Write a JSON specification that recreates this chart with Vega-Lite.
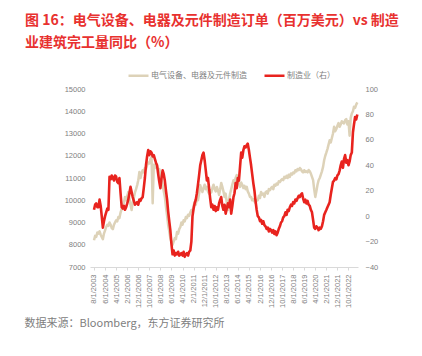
{
  "$schema": "https://vega.github.io/schema/vega-lite/v6.json",
  "width": 268,
  "height": 178,
  "autosize": {"type": "none"},
  "padding": {"left": 90, "top": 89, "right": 64, "bottom": 89},
  "background": "white",
  "title": {
    "text": ["图 16：电气设备、电器及元件制造订单（百万美元）vs 制造", "业建筑完工量同比（%）"],
    "anchor": "start",
    "frame": "group",
    "orient": "top",
    "offset": 14,
    "dx": -65,
    "fontSize": 14,
    "lineHeight": 22,
    "color": "#E8312F",
    "font": "Noto Sans CJK SC",
    "fontWeight": "bold"
  },
  "data": {"values": [
{"d":"2003-08-01","o":8200,"m":5},{"d":"2003-09-01","o":8400,"m":9},{"d":"2003-10-01","o":8350,"m":10},{"d":"2003-11-01","o":8550,"m":7},{"d":"2003-12-01","o":8500,"m":7},
{"d":"2004-01-01","o":8600,"m":13},{"d":"2004-02-01","o":8450,"m":8},{"d":"2004-03-01","o":8350,"m":0},{"d":"2004-04-01","o":8250,"m":-9},{"d":"2004-05-01","o":8500,"m":-4},{"d":"2004-06-01","o":8650,"m":0},{"d":"2004-07-01","o":8800,"m":3},{"d":"2004-08-01","o":8900,"m":6},{"d":"2004-09-01","o":8850,"m":5},{"d":"2004-10-01","o":9000,"m":31},{"d":"2004-11-01","o":8900,"m":29},{"d":"2004-12-01","o":8750,"m":32},
{"d":"2005-01-01","o":8700,"m":30},{"d":"2005-02-01","o":8900,"m":28},{"d":"2005-03-01","o":9000,"m":32},{"d":"2005-04-01","o":9100,"m":31},{"d":"2005-05-01","o":9050,"m":27},{"d":"2005-06-01","o":9250,"m":26},{"d":"2005-07-01","o":9200,"m":30},{"d":"2005-08-01","o":9450,"m":18},{"d":"2005-09-01","o":9600,"m":7},{"d":"2005-10-01","o":9700,"m":6},{"d":"2005-11-01","o":9900,"m":8},{"d":"2005-12-01","o":10150,"m":5},
{"d":"2006-01-01","o":10000,"m":7},{"d":"2006-02-01","o":10200,"m":10},{"d":"2006-03-01","o":10370,"m":13},{"d":"2006-04-01","o":10100,"m":18},{"d":"2006-05-01","o":9800,"m":23},{"d":"2006-06-01","o":9560,"m":19},{"d":"2006-07-01","o":9900,"m":15},{"d":"2006-08-01","o":10100,"m":12},{"d":"2006-09-01","o":10350,"m":9},{"d":"2006-10-01","o":10500,"m":10},{"d":"2006-11-01","o":10680,"m":11},{"d":"2006-12-01","o":10900,"m":9},
{"d":"2007-01-01","o":11270,"m":13},{"d":"2007-02-01","o":11000,"m":12},{"d":"2007-03-01","o":11200,"m":14},{"d":"2007-04-01","o":11350,"m":15},{"d":"2007-05-01","o":11250,"m":22},{"d":"2007-06-01","o":11450,"m":30},{"d":"2007-07-01","o":11400,"m":40},{"d":"2007-08-01","o":11580,"m":47},{"d":"2007-09-01","o":11700,"m":52},{"d":"2007-10-01","o":11650,"m":48},{"d":"2007-11-01","o":11850,"m":51},{"d":"2007-12-01","o":11950,"m":50},
{"d":"2008-01-01","o":9870,"m":47},{"d":"2008-02-01","o":11600,"m":48},{"d":"2008-03-01","o":11450,"m":45},{"d":"2008-04-01","o":11650,"m":42},{"d":"2008-05-01","o":11500,"m":40},{"d":"2008-06-01","o":11350,"m":33},{"d":"2008-07-01","o":11400,"m":27},{"d":"2008-08-01","o":11220,"m":22},{"d":"2008-09-01","o":10900,"m":30},{"d":"2008-10-01","o":10700,"m":36},{"d":"2008-11-01","o":10400,"m":33},{"d":"2008-12-01","o":10150,"m":28},
{"d":"2009-01-01","o":9700,"m":20},{"d":"2009-02-01","o":9300,"m":13},{"d":"2009-03-01","o":8900,"m":4},{"d":"2009-04-01","o":8600,"m":-4},{"d":"2009-05-01","o":8300,"m":-11},{"d":"2009-06-01","o":8100,"m":-22},{"d":"2009-07-01","o":8000,"m":-30},{"d":"2009-08-01","o":8150,"m":-27},{"d":"2009-09-01","o":8300,"m":-31},{"d":"2009-10-01","o":8250,"m":-29},{"d":"2009-11-01","o":8570,"m":-30},{"d":"2009-12-01","o":8500,"m":-28},
{"d":"2010-01-01","o":8700,"m":-31},{"d":"2010-02-01","o":8800,"m":-30},{"d":"2010-03-01","o":9000,"m":-29},{"d":"2010-04-01","o":8900,"m":-31},{"d":"2010-05-01","o":9100,"m":-28},{"d":"2010-06-01","o":9050,"m":-32},{"d":"2010-07-01","o":9250,"m":-30},{"d":"2010-08-01","o":9200,"m":-29},{"d":"2010-09-01","o":9350,"m":-31},{"d":"2010-10-01","o":9300,"m":-28},{"d":"2010-11-01","o":9450,"m":-27},{"d":"2010-12-01","o":9560,"m":-20},
{"d":"2011-01-01","o":9500,"m":0},{"d":"2011-02-01","o":9750,"m":6},{"d":"2011-03-01","o":9920,"m":10},{"d":"2011-04-01","o":9800,"m":13},{"d":"2011-05-01","o":10100,"m":18},{"d":"2011-06-01","o":10000,"m":25},{"d":"2011-07-01","o":10300,"m":32},{"d":"2011-08-01","o":10680,"m":40},{"d":"2011-09-01","o":10500,"m":44},{"d":"2011-10-01","o":10370,"m":48},{"d":"2011-11-01","o":10550,"m":50},{"d":"2011-12-01","o":10700,"m":44},
{"d":"2012-01-01","o":10500,"m":36},{"d":"2012-02-01","o":10600,"m":28},{"d":"2012-03-01","o":10400,"m":30},{"d":"2012-04-01","o":10300,"m":22},{"d":"2012-05-01","o":10450,"m":14},{"d":"2012-06-01","o":10350,"m":7},{"d":"2012-07-01","o":10550,"m":9},{"d":"2012-08-01","o":10700,"m":5},{"d":"2012-09-01","o":10500,"m":8},{"d":"2012-10-01","o":10400,"m":4},{"d":"2012-11-01","o":10600,"m":7},{"d":"2012-12-01","o":10450,"m":5},
{"d":"2013-01-01","o":10240,"m":10},{"d":"2013-02-01","o":10500,"m":13},{"d":"2013-03-01","o":10780,"m":15},{"d":"2013-04-01","o":10600,"m":8},{"d":"2013-05-01","o":10400,"m":5},{"d":"2013-06-01","o":10150,"m":9},{"d":"2013-07-01","o":10300,"m":2},{"d":"2013-08-01","o":9900,"m":6},{"d":"2013-09-01","o":9560,"m":10},{"d":"2013-10-01","o":10000,"m":7},{"d":"2013-11-01","o":10300,"m":13},{"d":"2013-12-01","o":10500,"m":2},
{"d":"2014-01-01","o":10700,"m":8},{"d":"2014-02-01","o":10900,"m":15},{"d":"2014-03-01","o":10800,"m":18},{"d":"2014-04-01","o":11000,"m":26},{"d":"2014-05-01","o":11130,"m":22},{"d":"2014-06-01","o":10900,"m":30},{"d":"2014-07-01","o":10750,"m":28},{"d":"2014-08-01","o":10600,"m":39},{"d":"2014-09-01","o":10800,"m":50},{"d":"2014-10-01","o":10700,"m":46},{"d":"2014-11-01","o":10550,"m":52},{"d":"2014-12-01","o":10650,"m":55},
{"d":"2015-01-01","o":10500,"m":54},{"d":"2015-02-01","o":10600,"m":56},{"d":"2015-03-01","o":10400,"m":57},{"d":"2015-04-01","o":10300,"m":52},{"d":"2015-05-01","o":10150,"m":46},{"d":"2015-06-01","o":10150,"m":40},{"d":"2015-07-01","o":10000,"m":33},{"d":"2015-08-01","o":10050,"m":26},{"d":"2015-09-01","o":9950,"m":20},{"d":"2015-10-01","o":9870,"m":12},{"d":"2015-11-01","o":10000,"m":5},{"d":"2015-12-01","o":10000,"m":0},
{"d":"2016-01-01","o":10200,"m":-1},{"d":"2016-02-01","o":10100,"m":-4},{"d":"2016-03-01","o":10370,"m":-3},{"d":"2016-04-01","o":10250,"m":-6},{"d":"2016-05-01","o":10300,"m":-4},{"d":"2016-06-01","o":10150,"m":-7},{"d":"2016-07-01","o":10350,"m":-8},{"d":"2016-08-01","o":10400,"m":-10},{"d":"2016-09-01","o":10300,"m":-9},{"d":"2016-10-01","o":10500,"m":-12},{"d":"2016-11-01","o":10450,"m":-10},{"d":"2016-12-01","o":10550,"m":-11},
{"d":"2017-01-01","o":10600,"m":-13},{"d":"2017-02-01","o":10500,"m":-11},{"d":"2017-03-01","o":10700,"m":-14},{"d":"2017-04-01","o":10650,"m":-12},{"d":"2017-05-01","o":10750,"m":-15},{"d":"2017-06-01","o":10700,"m":-13},{"d":"2017-07-01","o":10850,"m":-10},{"d":"2017-08-01","o":10820,"m":-8},{"d":"2017-09-01","o":10900,"m":-5},{"d":"2017-10-01","o":10950,"m":-4},{"d":"2017-11-01","o":10900,"m":-1},{"d":"2017-12-01","o":11050,"m":0},
{"d":"2018-01-01","o":11000,"m":3},{"d":"2018-02-01","o":11100,"m":1},{"d":"2018-03-01","o":11000,"m":5},{"d":"2018-04-01","o":11150,"m":4},{"d":"2018-05-01","o":11050,"m":7},{"d":"2018-06-01","o":11200,"m":9},{"d":"2018-07-01","o":11150,"m":8},{"d":"2018-08-01","o":11250,"m":11},{"d":"2018-09-01","o":11220,"m":10},{"d":"2018-10-01","o":11350,"m":13},{"d":"2018-11-01","o":11300,"m":12},{"d":"2018-12-01","o":11400,"m":14},
{"d":"2019-01-01","o":11350,"m":16},{"d":"2019-02-01","o":11450,"m":15},{"d":"2019-03-01","o":11400,"m":17},{"d":"2019-04-01","o":11300,"m":18},{"d":"2019-05-01","o":11250,"m":14},{"d":"2019-06-01","o":11350,"m":11},{"d":"2019-07-01","o":11270,"m":13},{"d":"2019-08-01","o":11300,"m":10},{"d":"2019-09-01","o":11250,"m":12},{"d":"2019-10-01","o":11360,"m":9},{"d":"2019-11-01","o":11300,"m":8},{"d":"2019-12-01","o":11200,"m":5},
{"d":"2020-01-01","o":11050,"m":3},{"d":"2020-02-01","o":10900,"m":-3},{"d":"2020-03-01","o":10500,"m":-9},{"d":"2020-04-01","o":10150,"m":-10},{"d":"2020-05-01","o":10400,"m":-8},{"d":"2020-06-01","o":10700,"m":-9},{"d":"2020-07-01","o":10900,"m":-11},{"d":"2020-08-01","o":11000,"m":-9},{"d":"2020-09-01","o":11150,"m":-10},{"d":"2020-10-01","o":11300,"m":-8},{"d":"2020-11-01","o":11500,"m":-4},{"d":"2020-12-01","o":11800,"m":1},
{"d":"2021-01-01","o":12000,"m":3},{"d":"2021-02-01","o":12150,"m":5},{"d":"2021-03-01","o":12300,"m":7},{"d":"2021-04-01","o":12500,"m":9},{"d":"2021-05-01","o":12700,"m":11},{"d":"2021-06-01","o":12600,"m":17},{"d":"2021-07-01","o":12800,"m":22},{"d":"2021-08-01","o":13000,"m":27},{"d":"2021-09-01","o":13300,"m":28},{"d":"2021-10-01","o":13100,"m":30},{"d":"2021-11-01","o":13200,"m":29},{"d":"2021-12-01","o":13350,"m":32},
{"d":"2022-01-01","o":13470,"m":33},{"d":"2022-02-01","o":13300,"m":36},{"d":"2022-03-01","o":13400,"m":40},{"d":"2022-04-01","o":13550,"m":43},{"d":"2022-05-01","o":13500,"m":38},{"d":"2022-06-01","o":13450,"m":45},{"d":"2022-07-01","o":13600,"m":48},{"d":"2022-08-01","o":13650,"m":42},{"d":"2022-09-01","o":13400,"m":44},{"d":"2022-10-01","o":13550,"m":40},{"d":"2022-11-01","o":12900,"m":43},{"d":"2022-12-01","o":13700,"m":48},
{"d":"2023-01-01","o":13900,"m":50},{"d":"2023-02-01","o":14000,"m":66},{"d":"2023-03-01","o":14200,"m":72},{"d":"2023-04-01","o":14150,"m":78},{"d":"2023-05-01","o":14300,"m":76},{"d":"2023-06-01","o":14400,"m":80}
  ]},
  "encoding": {
    "x": {
      "field": "d", "type": "temporal",
      "scale": {"type": "utc", "domain": [{"year": 2003, "month": 4, "date": 13, "utc": true}, {"year": 2023, "month": 6, "date": 20, "utc": true}]},
      "axis": {
        "values": [
          {"year":2003,"month":8,"date":1,"utc":true},{"year":2004,"month":6,"date":1,"utc":true},{"year":2005,"month":4,"date":1,"utc":true},{"year":2006,"month":2,"date":1,"utc":true},
          {"year":2006,"month":12,"date":1,"utc":true},{"year":2007,"month":10,"date":1,"utc":true},{"year":2008,"month":8,"date":1,"utc":true},{"year":2009,"month":6,"date":1,"utc":true},
          {"year":2010,"month":4,"date":1,"utc":true},{"year":2011,"month":2,"date":1,"utc":true},{"year":2011,"month":12,"date":1,"utc":true},{"year":2012,"month":10,"date":1,"utc":true},
          {"year":2013,"month":8,"date":1,"utc":true},{"year":2014,"month":6,"date":1,"utc":true},{"year":2015,"month":4,"date":1,"utc":true},{"year":2016,"month":2,"date":1,"utc":true},
          {"year":2016,"month":12,"date":1,"utc":true},{"year":2017,"month":10,"date":1,"utc":true},{"year":2018,"month":8,"date":1,"utc":true},{"year":2019,"month":6,"date":1,"utc":true},
          {"year":2020,"month":4,"date":1,"utc":true},{"year":2021,"month":2,"date":1,"utc":true},{"year":2021,"month":12,"date":1,"utc":true},{"year":2022,"month":10,"date":1,"utc":true}
        ],
        "format": "%-m/%-d/%Y",
        "labelAngle": -90,
        "labelAlign": "right",
        "labelBaseline": "middle",
        "labelFontSize": 7.5,
        "labelColor": "#808080",
        "labelFont": "Liberation Sans",
        "labelPadding": 4,
        "labelOverlap": false,
        "labelSeparation": 0,
        "labelFlush": false,
        "ticks": true,
        "tickSize": 3,
        "tickColor": "#d9d9d9",
        "domainColor": "#d9d9d9",
        "grid": false,
        "title": "数据来源：Bloomberg，东方证券研究所",
        "titleFont": "Noto Sans CJK SC",
        "titleFontSize": 11,
        "titleFontWeight": "normal",
        "titleColor": "#808080",
        "titleAnchor": "start",
        "titleAlign": "left",
        "titleBaseline": "alphabetic",
        "titleX": -66,
        "titleY": 59
      }
    }
  },
  "layer": [
    {
      "mark": {"type": "line", "strokeWidth": 2.5, "strokeJoin": "round"},
      "encoding": {
        "y": {
          "field": "o", "type": "quantitative",
          "scale": {"domain": [7000, 15000], "nice": false, "zero": false},
          "axis": {
            "values": [7000, 8000, 9000, 10000, 11000, 12000, 13000, 14000, 15000],
            "format": "d",
            "title": null,
            "grid": false,
            "domain": false,
            "ticks": false,
            "labelPadding": 5,
            "labelFontSize": 7.5,
            "labelColor": "#808080",
            "labelFont": "Liberation Sans"
          }
        },
        "color": {
          "datum": "电气设备、电器及元件制造",
          "scale": {"domain": ["电气设备、电器及元件制造", "制造业（右）"], "range": ["#DDD2B8", "#E8231E"]},
          "legend": {
            "orient": "none",
            "legendX": 37,
            "legendY": -25,
            "direction": "horizontal",
            "title": null,
            "symbolType": "stroke",
            "symbolSize": 400,
            "symbolStrokeWidth": 2.5,
            "labelFontSize": 8,
            "labelFont": "Noto Sans CJK SC",
            "labelColor": "#808080",
            "labelOffset": 1,
            "labelLimit": 300,
            "columnPadding": 12
          }
        }
      }
    },
    {
      "mark": {"type": "line", "strokeWidth": 2.6, "strokeJoin": "round"},
      "encoding": {
        "y": {
          "field": "m", "type": "quantitative",
          "scale": {"domain": [-40, 100], "nice": false, "zero": false},
          "axis": {
            "orient": "right",
            "values": [-40, -20, 0, 20, 40, 60, 80, 100],
            "title": null,
            "grid": false,
            "domain": false,
            "ticks": false,
            "labelPadding": 7,
            "labelFontSize": 7.5,
            "labelColor": "#808080",
            "labelFont": "Liberation Sans"
          }
        },
        "color": {"datum": "制造业（右）"}
      }
    }
  ],
  "resolve": {"scale": {"y": "independent"}},
  "config": {"view": {"stroke": null}}
}
